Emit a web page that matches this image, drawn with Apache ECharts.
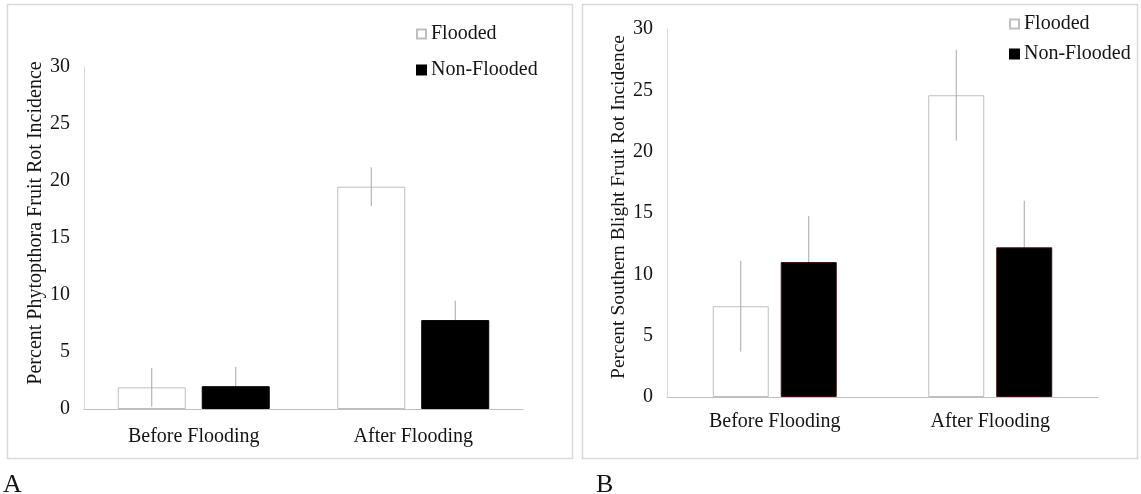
<!DOCTYPE html>
<html>
<head>
<meta charset="utf-8">
<script src="https://cdn.jsdelivr.net/npm/echarts@6/dist/echarts.min.js"></script>
<style>
html,body{margin:0;padding:0;background:#fff;}
#c{width:1141px;height:494px;}
</style>
</head>
<body>
<div id="c"></div>
<script>
// ---- data ----
const categories = ['Before Flooding', 'After Flooding'];
const seriesNames = ['Flooded', 'Non-Flooded'];
const yTicks = { min: 0, max: 30, interval: 5 };

// Panel A: Phytophthora fruit rot
const phytoFlooded = [1.9, 19.5];
const phytoFloodedErr = [1.7, 1.7];
const phytoNonFlooded = [2.0, 7.8];
const phytoNonFloodedErr = [1.7, 1.7];

// Panel B: Southern blight fruit rot
const sbFlooded = [7.4, 24.6];
const sbFloodedErr = [3.7, 3.7];
const sbNonFlooded = [11.0, 12.2];
const sbNonFloodedErr = [3.75, 3.8];

const titleA = 'Percent Phytopthora Fruit Rot Incidence';
const titleB = 'Percent Southern Blight Fruit Rot Incidence';
const panelLabels = ['A', 'B'];

// ---- styles ----
const FONT = '"Liberation Serif", "Times New Roman", serif';
const TXT = '#141414';
const FS = 20;
const chart = echarts.init(document.getElementById('c'), null, { renderer: 'canvas' });

function errData(vals, errs) {
  return vals.map((v, i) => [i, v, errs[i]]);
}
function errSeries(xi, yi, data, offset, z) {
  return {
    type: 'custom', xAxisIndex: xi, yAxisIndex: yi, z: z, silent: true,
    data: data,
    renderItem: function (params, api) {
      const top = api.coord([api.value(0), api.value(1) + api.value(2)]);
      const bot = api.coord([api.value(0), Math.max(0, api.value(1) - api.value(2))]);
      return {
        type: 'line',
        shape: { x1: top[0] + offset, y1: top[1], x2: bot[0] + offset, y2: bot[1] },
        style: { stroke: '#a6a6a6', lineWidth: 1 }
      };
    }
  };
}
function xAxisCfg(gi, margin) {
  return {
    type: 'category', gridIndex: gi, data: categories,
    axisLine: { show: true, lineStyle: { color: '#bfbfbf', width: 1 } },
    axisTick: { show: false },
    axisLabel: { fontFamily: FONT, fontSize: FS, color: TXT, margin: margin },
    splitLine: { show: false }
  };
}
function yAxisCfg(gi, name, gap, pad, nfs) {
  return {
    type: 'value', gridIndex: gi, min: yTicks.min, max: yTicks.max, interval: yTicks.interval,
    name: name, nameLocation: 'middle', nameRotate: 90, nameGap: gap,
    nameTextStyle: { fontFamily: FONT, fontSize: nfs, color: TXT, padding: pad },
    axisLine: { show: true, lineStyle: { color: '#d9d9d9', width: 1 } },
    axisTick: { show: false },
    axisLabel: { fontFamily: FONT, fontSize: FS, color: TXT, margin: 14 },
    splitLine: { show: false }
  };
}
function legendCfg(left, top, gap) {
  return {
    orient: 'vertical', left: left, top: top, itemGap: gap, padding: 0,
    itemWidth: 9, itemHeight: 9, icon: 'rect',
    data: seriesNames, selectedMode: false,
    textStyle: { fontFamily: FONT, fontSize: FS, color: TXT }
  };
}

const floodStyle = { color: '#ffffff', borderColor: '#bfbfbf', borderWidth: 1 };
const nonFloodStyleA = { color: '#000000', borderColor: '#000000', borderWidth: 1 };
const nonFloodStyleB = { color: '#000000', borderColor: '#3a0d0d', borderWidth: 1 };

const option = {
  backgroundColor: '#ffffff',
  animation: false,
  grid: [
    { left: 84, top: 67, width: 439, height: 342 },
    { left: 667, top: 29, width: 431, height: 368 }
  ],
  xAxis: [xAxisCfg(0, 18), xAxisCfg(1, 15)],
  yAxis: [yAxisCfg(0, titleA, 31, [0, 0, 0, 30], 20), yAxisCfg(1, titleB, 32, [0, 0, 0, 12], 19.5)],
  legend: [legendCfg(416, 24, 16), legendCfg(1009, 14, 10)],
  series: [
    { name: seriesNames[0], type: 'bar', xAxisIndex: 0, yAxisIndex: 0, data: phytoFlooded,
      barWidth: 68, barGap: '23.5%', itemStyle: floodStyle, z: 2 },
    { name: seriesNames[1], type: 'bar', xAxisIndex: 0, yAxisIndex: 0, data: phytoNonFlooded,
      barWidth: 68, barGap: '23.5%', itemStyle: nonFloodStyleA, z: 2 },
    { name: seriesNames[0], type: 'bar', xAxisIndex: 1, yAxisIndex: 1, data: sbFlooded,
      barWidth: 56, barGap: '21.4%', itemStyle: floodStyle, z: 2 },
    { name: seriesNames[1], type: 'bar', xAxisIndex: 1, yAxisIndex: 1, data: sbNonFlooded,
      barWidth: 56, barGap: '21.4%', itemStyle: nonFloodStyleB, z: 2 },
    errSeries(0, 0, errData(phytoFlooded, phytoFloodedErr), -42, 3),
    errSeries(0, 0, errData(phytoNonFlooded, phytoNonFloodedErr), 42, 1),
    errSeries(1, 1, errData(sbFlooded, sbFloodedErr), -34, 3),
    errSeries(1, 1, errData(sbNonFlooded, sbNonFloodedErr), 34, 1)
  ],
  graphic: [
    { type: 'rect', shape: { x: 7.5, y: 4.5, width: 565, height: 454 },
      style: { fill: null, stroke: '#d9d9d9', lineWidth: 1.5 }, silent: true },
    { type: 'rect', shape: { x: 582.5, y: 4.5, width: 555, height: 454 },
      style: { fill: null, stroke: '#d9d9d9', lineWidth: 1.5 }, silent: true },
    { type: 'text', left: 3, top: 472,
      style: { text: panelLabels[0], font: '26px "Liberation Serif", serif', fill: TXT } },
    { type: 'text', left: 596, top: 472,
      style: { text: panelLabels[1], font: '26px "Liberation Serif", serif', fill: TXT } }
  ]
};
chart.setOption(option);
</script>
</body>
</html>
